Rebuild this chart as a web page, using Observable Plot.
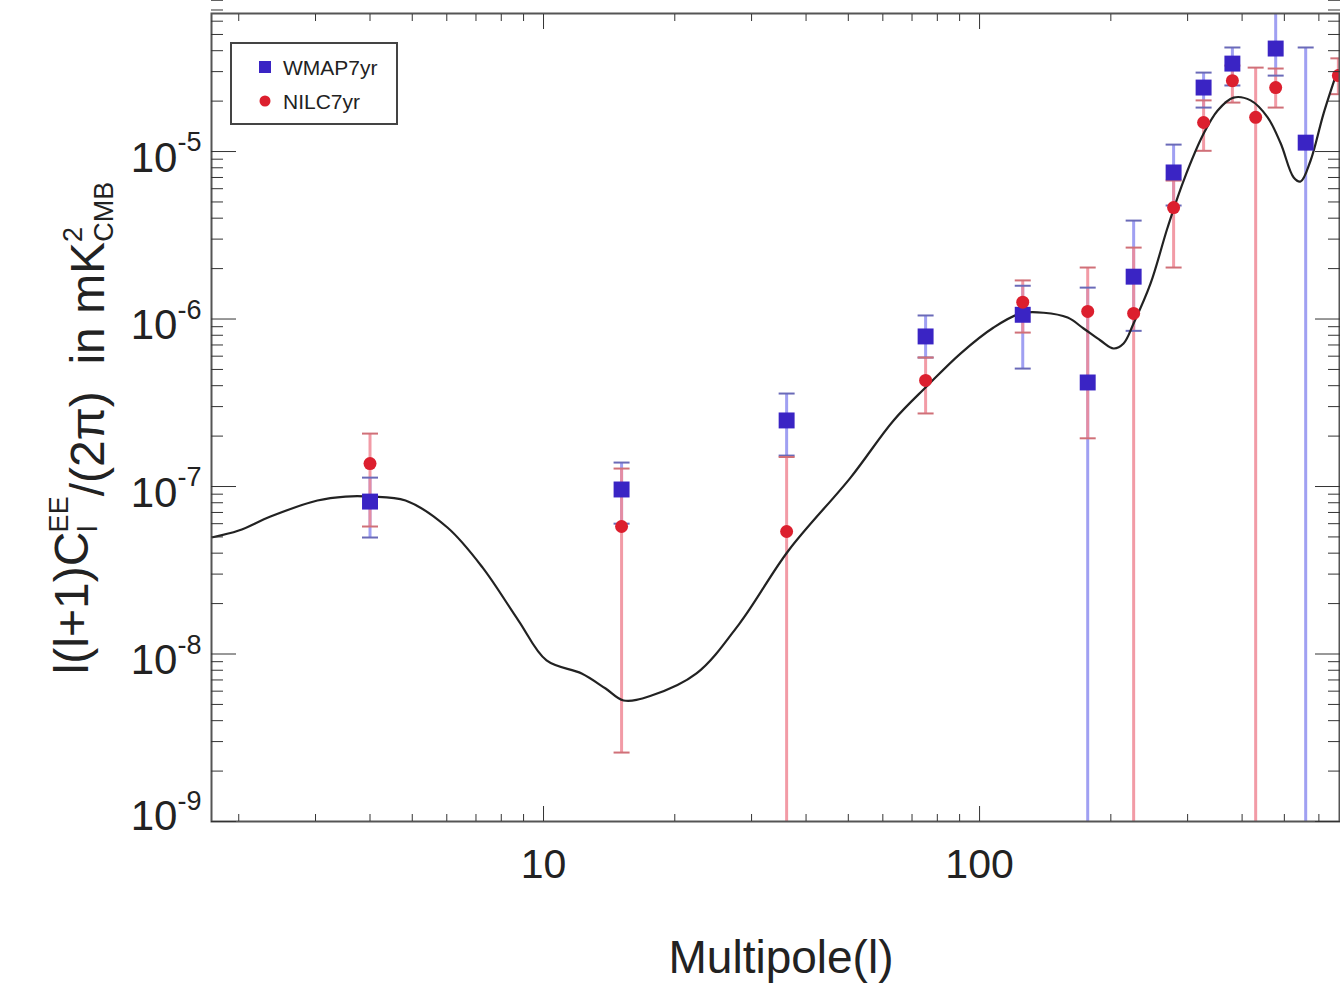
<!DOCTYPE html>
<html>
<head>
<meta charset="utf-8">
<script src="https://cdn.jsdelivr.net/npm/d3@7"></script>
<script src="https://cdn.jsdelivr.net/npm/@observablehq/plot@0.6"></script>
<style>
  html, body { margin: 0; padding: 0; background: #fff; }
  #chart svg { display: block; font-family: "Liberation Sans", Arial, Helvetica, sans-serif; }
</style>
</head>
<body>
<div id="chart"></div>
<script>
// ---- WMAP7yr (blue squares) ----
const lWMAP  = [4.0, 15.1, 36.1, 75.2, 125.6, 177, 225.6, 278.6, 326.4, 380, 477.6, 559.6];
const cWMAP  = [8.13e-8, 9.6e-8, 2.48e-7, 7.87e-7, 1.06e-6, 4.18e-7, 1.79e-6, 7.5e-6, 2.41e-5, 3.35e-5, 4.12e-5, 1.13e-5];
const loWMAP = [4.96e-8, 6.0e-8, 1.53e-7, 5.89e-7, 5.06e-7, 1e-10, 8.5e-7, 4.76e-6, 1.83e-5, 2.48e-5, 2.84e-5, 1e-10];
const hiWMAP = [1.13e-7, 1.39e-7, 3.59e-7, 1.05e-6, 1.58e-6, 1.54e-6, 3.87e-6, 1.10e-5, 2.96e-5, 4.18e-5, 1e-4, 4.18e-5];

// ---- NILC7yr (red dots) ----
const lNILC  = [4.0, 15.1, 36.1, 75.2, 125.6, 177, 225.6, 278.6, 326.4, 380, 429.7, 477.6, 665];
const cNILC  = [1.37e-7, 5.77e-8, 5.39e-8, 4.3e-7, 1.26e-6, 1.11e-6, 1.08e-6, 4.63e-6, 1.49e-5, 2.65e-5, 1.6e-5, 2.41e-5, 2.84e-5];
const loNILC = [5.77e-8, 2.58e-9, 1e-10, 2.73e-7, 8.3e-7, 1.94e-7, 1e-10, 2.03e-6, 1.01e-5, 1.96e-5, 1e-10, 1.83e-5, 2.2e-5];
const hiNILC = [2.07e-7, 1.28e-7, 1.5e-7, 5.89e-7, 1.70e-6, 2.03e-6, 2.67e-6, 6.71e-6, 2.02e-5, 3.26e-5, 3.17e-5, 3.13e-5, 3.6e-5];

// ---- theory curve ----
const lTheory = [1.732, 2.0, 2.365, 3.03, 3.515, 4.01, 4.825, 6.02, 7.25, 8.76, 10.16, 12.23, 13.88, 15.26, 17.69,
  22.43, 28.15, 36.47, 50.6, 63.5, 76.0, 90.4, 107.7, 124.2, 140.3, 159.2, 173.2, 189.4, 203.0, 213.9, 225.5,
  246.7, 269.9, 293.8, 326.5, 351.6, 382.4, 418.3, 457.7, 490.3, 525.2, 544.8, 574.3, 615.2, 662.3];
const cTheory = [4.96e-8, 5.46e-8, 6.62e-8, 8.25e-8, 8.71e-8, 8.71e-8, 8.25e-8, 5.69e-8, 3.28e-8, 1.585e-8, 9.15e-9,
  7.65e-9, 6.22e-9, 5.28e-9, 5.65e-9, 7.65e-9, 1.52e-8, 4.15e-8, 1.13e-7, 2.48e-7, 4.01e-7, 6.22e-7, 8.90e-7,
  1.08e-6, 1.09e-6, 1.02e-6, 8.78e-7, 7.44e-7, 6.67e-7, 7.14e-7, 9.40e-7, 1.63e-6, 3.52e-6, 6.71e-6, 1.28e-5,
  1.76e-5, 2.10e-5, 2.02e-5, 1.60e-5, 1.12e-5, 7.0e-6, 6.62e-6, 8.84e-6, 1.69e-5, 3.05e-5];

// ---- axis ticks ----
const xMajor = [10, 100];
const xMinor = [2, 3, 4, 5, 6, 7, 8, 9, 20, 30, 40, 50, 60, 70, 80, 90, 200, 300, 400, 500, 600];
const yMajor = [1e-9, 1e-8, 1e-7, 1e-6, 1e-5];
const yMinor = [-9, -8, -7, -6, -5].flatMap(e => [2, 3, 4, 5, 6, 7, 8, 9].map(m => m * Math.pow(10, e)));

const seriesNames = ["WMAP7yr", "NILC7yr"];
const blue = "#3a24c4", red = "#dc1f2e";
const blueBar = "#8f8ff0", redBar = "#f08a96";

const wmap = lWMAP.map((l, i) => ({l, c: cWMAP[i], lo: loWMAP[i], hi: hiWMAP[i]}));
const nilc = lNILC.map((l, i) => ({l, c: cNILC[i], lo: loNILC[i], hi: hiNILC[i]}));
const theory = lTheory.map((l, i) => ({l, c: cTheory[i]}));

// horizontal cap symbol for error bars
const capSymbol = {draw(ctx, size) { const r = Math.sqrt(size / Math.PI); ctx.moveTo(-r, 0); ctx.lineTo(r, 0); }};

function caps(data, color) {
  return [
    Plot.dot(data, {x: "l", y: "lo", symbol: capSymbol, r: 8, stroke: color, strokeWidth: 2, fill: "none", clip: true}),
    Plot.dot(data, {x: "l", y: "hi", symbol: capSymbol, r: 8, stroke: color, strokeWidth: 2, fill: "none", clip: true})
  ];
}

const chart = Plot.plot({
  width: 1340,
  height: 985,
  marginTop: 13,
  marginBottom: 164,
  marginLeft: 211,
  marginRight: 1,
  style: {background: "#fff", color: "#222"},
  x: {type: "log", domain: [1.732, 669]},
  y: {type: "log", domain: [1e-9, 6.67e-5]},
  marks: [
    // error bars
    Plot.ruleX(wmap, {x: "l", y1: "lo", y2: "hi", stroke: blueBar, strokeWidth: 3, strokeOpacity: 0.85, clip: true}),
    Plot.ruleX(nilc, {x: "l", y1: "lo", y2: "hi", stroke: redBar, strokeWidth: 3, strokeOpacity: 0.85, clip: true}),
    ...caps(wmap, "#6a6ab8"),
    ...caps(nilc, "#d07078"),
    // theory curve
    Plot.line(theory, {x: "l", y: "c", curve: "catmull-rom", stroke: "#222", strokeWidth: 2.2, clip: true}),
    // points
    Plot.dot(wmap, {x: "l", y: "c", symbol: "square", r: 9, fill: blue, stroke: "none", clip: true}),
    Plot.dot(nilc, {x: "l", y: "c", r: 6.5, fill: red, stroke: "none", clip: true}),
    // frame
    Plot.frame({stroke: "#555", strokeWidth: 2}),
    // inward ticks
    Plot.axisX(xMajor, {anchor: "bottom", tickSize: -15, tickFormat: () => "", label: null, stroke: "#333"}),
    Plot.axisX(xMinor, {anchor: "bottom", tickSize: -7, tickFormat: () => "", label: null, stroke: "#333"}),
    Plot.axisX(xMajor, {anchor: "top", tickSize: -15, tickFormat: () => "", label: null, stroke: "#333"}),
    Plot.axisX(xMinor, {anchor: "top", tickSize: -7, tickFormat: () => "", label: null, stroke: "#333"}),
    Plot.axisY(yMajor, {anchor: "left", tickSize: -25, tickFormat: () => "", label: null, stroke: "#333"}),
    Plot.axisY(yMinor, {anchor: "left", tickSize: -12, tickFormat: () => "", label: null, stroke: "#333"}),
    Plot.axisY(yMajor, {anchor: "right", tickSize: -25, tickFormat: () => "", label: null, stroke: "#333"}),
    Plot.axisY(yMinor, {anchor: "right", tickSize: -12, tickFormat: () => "", label: null, stroke: "#333"}),
    // tick labels
    Plot.axisX(xMajor, {anchor: "bottom", tickSize: 0, tickPadding: 27, fontSize: 41, tickFormat: d => String(d), label: null}),
    Plot.axisY(yMajor, {anchor: "left", tickSize: 0, tickPadding: 10, fontSize: 42,
      tickFormat: d => "10^" + Math.round(Math.log10(d)), label: null})
  ]
});

document.getElementById("chart").appendChild(chart);

const svg = d3.select(chart);
// superscript exponents on y tick labels
svg.selectAll("text").each(function () {
  const t = d3.select(this);
  const s = t.text();
  const m = /^10\^(-?\d+)$/.exec(s);
  if (!m) return;
  t.text("");
  const exp = m[1];
  t.append("tspan").attr("dy", exp === "-9" ? "-0.12em" : "0.16em").text("10");
  t.append("tspan").attr("font-size", 27).attr("dy", "-0.75em").text(exp);
});

// y-axis title (rotated)
const yTitle = svg.append("text")
  .attr("transform", "translate(88,428) rotate(-90)")
  .attr("text-anchor", "middle")
  .attr("font-size", 48)
  .attr("fill", "#222");
yTitle.append("tspan").text("l(l+1)C");
yTitle.append("tspan").attr("font-size", 27).attr("dy", "0.35em").text("l");
yTitle.append("tspan").attr("font-size", 27).attr("dx", "-0.25em").attr("dy", "-1.1em").text("EE");
yTitle.append("tspan").attr("dy", "0.75em").text("/(2\u03c0)\u00a0\u00a0in mK");
yTitle.append("tspan").attr("font-size", 27).attr("dy", "-0.8em").text("2");
yTitle.append("tspan").attr("font-size", 27).attr("dx", "-0.55em").attr("dy", "1.15em").text("CMB");

// x-axis title
svg.append("text")
  .attr("x", 781).attr("y", 973)
  .attr("text-anchor", "middle")
  .attr("font-size", 46)
  .attr("fill", "#222")
  .text("Multipole(l)");

// legend
const lg = svg.append("g").attr("text-anchor", "start");
lg.append("rect").attr("x", 231).attr("y", 43).attr("width", 166).attr("height", 81)
  .attr("fill", "#fff").attr("stroke", "#444").attr("stroke-width", 2);
lg.append("rect").attr("x", 259).attr("y", 61).attr("width", 12).attr("height", 12).attr("fill", blue);
lg.append("circle").attr("cx", 265).attr("cy", 101).attr("r", 5.5).attr("fill", red);
lg.append("text").attr("x", 283).attr("y", 75).attr("font-size", 21).attr("text-anchor", "start").attr("fill", "#222").text(seriesNames[0]);
lg.append("text").attr("x", 283).attr("y", 109).attr("font-size", 21).attr("text-anchor", "start").attr("fill", "#222").text(seriesNames[1]);
</script>
</body>
</html>
